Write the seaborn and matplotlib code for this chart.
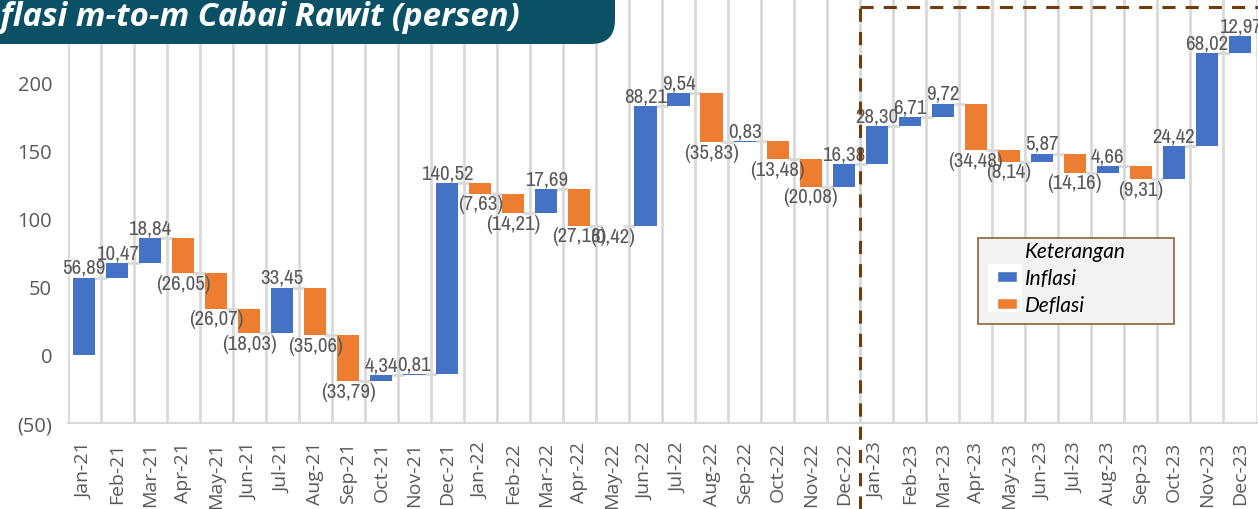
import numpy as np
import pandas as pd
import matplotlib
matplotlib.use("Agg")
import matplotlib.pyplot as plt
import seaborn as sns
from matplotlib.patches import FancyBboxPatch, Patch, Rectangle
from matplotlib.lines import Line2D
from matplotlib.transforms import IdentityTransform, blended_transform_factory
from matplotlib import font_manager as fm

# ---------------- data ----------------
months = ["Jan-21", "Feb-21", "Mar-21", "Apr-21", "May-21", "Jun-21", "Jul-21", "Aug-21",
          "Sep-21", "Oct-21", "Nov-21", "Dec-21",
          "Jan-22", "Feb-22", "Mar-22", "Apr-22", "May-22", "Jun-22", "Jul-22", "Aug-22",
          "Sep-22", "Oct-22", "Nov-22", "Dec-22",
          "Jan-23", "Feb-23", "Mar-23", "Apr-23", "May-23", "Jun-23", "Jul-23", "Aug-23",
          "Sep-23", "Oct-23", "Nov-23", "Dec-23"]
changes_2021 = [56.89, 10.47, 18.84, -26.05, -26.07, -18.03, 33.45, -35.06, -33.79, 4.34, 0.81, 140.52]
changes_2022 = [-7.63, -14.21, 17.69, -27.18, -0.42, 88.21, 9.54, -35.83, 0.83, -13.48, -20.08, 16.38]
changes_2023 = [28.30, 6.71, 9.72, -34.48, -8.14, 5.87, -14.16, 4.66, -9.31, 24.42, 68.02, 12.97]
title = "Inflasi m-to-m Cabai Rawit (persen)"
legend_title = "Keterangan"
legend_labels = ["Inflasi", "Deflasi"]
yticks = [-50, 0, 50, 100, 150, 200]

BLUE = "#4472C4"
ORANGE = "#ED7D31"
GREY_TXT = "#595959"
GRID = "#d9d9d9"
BROWN = "#703c0f"

sns.set_theme(style="white")
plt.rcParams['font.family'] = ['Open Sans', 'DejaVu Sans']

# pick a condensed font for the data labels
def condensed_props(size):
    entries = fm.fontManager.ttflist
    def ok(f):
        return f.style == 'normal' and f.weight in (400, 'normal', 'regular', 'book')
    for name in ['Liberation Sans Narrow']:
        for f in entries:
            if f.name == name and ok(f):
                return fm.FontProperties(fname=f.fname, size=size)
    for f in entries:
        if ('Condensed' in f.name or 'Narrow' in f.name) and ok(f):
            return fm.FontProperties(fname=f.fname, size=size)
    for f in entries:
        if f.stretch in ('condensed', 'semi-condensed', 'extra-condensed', 600, 700, 500) \
                and ok(f) and 'Mono' not in f.name and 'Serif' not in f.name:
            return fm.FontProperties(fname=f.fname, size=size)
    return fm.FontProperties(family=['DejaVu Sans'], size=size * 0.8)

lab_props = condensed_props(15)

chg = np.array(changes_2021 + changes_2022 + changes_2023)
end = np.cumsum(chg)
start = end - chg
low = np.minimum(start, end)
high = np.maximum(start, end)
df = pd.DataFrame({"month": months, "height": high - low, "low": low})

W, H = 1258, 510
fig = plt.figure(figsize=(W / 100, H / 100), dpi=100)
fig.patch.set_facecolor("white")
ax = fig.add_axes([67.5 / W, (H - 424) / H, 1189 / W, 424 / H])

bw = 0.67
sns.barplot(data=df, x="month", y="height", order=months, bottom=df["low"].values,
            width=bw, errorbar=None, ax=ax, color=BLUE, linewidth=0, zorder=3)
for p, c in zip(ax.patches, chg):
    p.set_facecolor(BLUE if c >= 0 else ORANGE)

# connectors
for i in range(len(chg) - 1):
    ax.plot([i + bw / 2, i + 1 - bw / 2], [end[i], end[i]], color=GRID, lw=2, zorder=2)

# value labels
for i, c in enumerate(chg):
    txt = f"{abs(c):.2f}".replace('.', ',')
    if c >= 0:
        ax.text(i, high[i] + 0.5, txt, ha='center', va='bottom', fontproperties=lab_props,
                color=GREY_TXT, zorder=4)
    else:
        ax.text(i, low[i] - 0.5, f"({txt})", ha='center', va='top', fontproperties=lab_props,
                color=GREY_TXT, zorder=4)

ax.set_xlim(-0.5, len(months) - 0.5)
ax.set_ylim(-50, 356 / 1.36)
ax.set_yticks(yticks)
ax.set_yticklabels([f"({abs(v)})" if v < 0 else f"{v}" for v in yticks])
ax.set_xticks(range(len(months)))
ax.set_xticklabels(months, rotation=90)
ax.set_xticks(np.arange(-0.5, len(months), 1), minor=True)
ax.grid(False)
ax.grid(True, which='minor', axis='x', color=GRID, lw=2)
ax.set_axisbelow(True)
ax.tick_params(axis='both', which='both', length=0, colors=GREY_TXT)
ax.tick_params(axis='y', labelsize=14.5, pad=11)
ax.tick_params(axis='x', labelsize=14, pad=13)
ax.set_xlabel("")
ax.set_ylabel("")
for s in ["top", "right", "left"]:
    ax.spines[s].set_visible(False)
ax.spines["bottom"].set_color(GRID)
ax.spines["bottom"].set_linewidth(1.5)

# dashed box for 2023
trans = blended_transform_factory(ax.transData, fig.transFigure)
ytop = 1 - 8 / H
fig.add_artist(Line2D([23.5, 23.5], [0, ytop], transform=trans, color=BROWN, lw=2.2,
                      linestyle=(0, (4.3, 3.3)), zorder=5))
fig.add_artist(Line2D([23.5, 37], [ytop, ytop], transform=trans, color=BROWN, lw=2.2,
                      linestyle=(0, (4.3, 3.3)), zorder=5))

# legend
fig.add_artist(Rectangle((978 / W, (H - 325) / H), 196 / W, 86 / H, transform=fig.transFigure,
                         facecolor="#f2f2f2", edgecolor="#8c6239", lw=1.2, zorder=6))
fig.add_artist(Rectangle((988 / W, (H - 313) / H), 34 / W, 48 / H, transform=fig.transFigure,
                         facecolor="white", edgecolor="none", zorder=6))
handles = [Patch(facecolor='none', edgecolor='none'), Patch(facecolor=BLUE), Patch(facecolor=ORANGE)]
leg = fig.legend(handles, [legend_title] + legend_labels, loc='upper left',
                 bbox_to_anchor=(997 / W, (H - 242) / H), frameon=False, borderpad=0,
                 borderaxespad=0, handlelength=0.95, handleheight=0.42, handletextpad=0.4,
                 labelspacing=0.33, prop={'family': ['Lato', 'DejaVu Sans'], 'style': 'italic', 'size': 15})
leg.set_zorder(7)
for t in leg.get_texts():
    t.set_color("black")

# title banner
fig.add_artist(FancyBboxPatch((-40, H - 45), 655, 120,
                              boxstyle="round,pad=0,rounding_size=24",
                              transform=IdentityTransform(), facecolor="#0b5166",
                              edgecolor="none", zorder=8))
fig.text(520 / W, 1 - 26 / H, title, ha='right', va='baseline', color='white',
         fontsize=23.7, fontweight='bold', fontstyle='italic',
         family=['Open Sans', 'DejaVu Sans'], zorder=9)

fig.savefig("out.png", dpi=100)
